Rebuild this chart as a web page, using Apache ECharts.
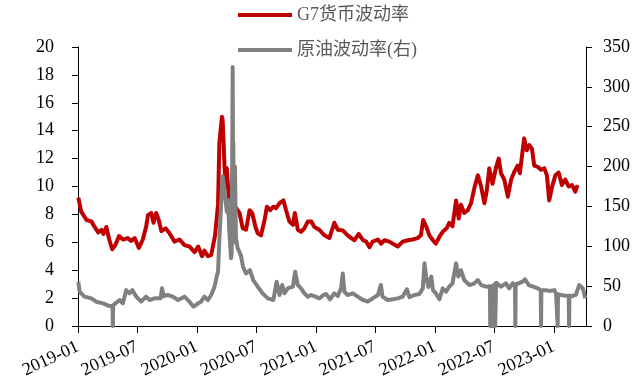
<!DOCTYPE html>
<html>
<head>
<meta charset="utf-8">
<script src="https://cdn.jsdelivr.net/npm/echarts@6/dist/echarts.min.js"></script>
<style>
  html, body { margin: 0; padding: 0; background: #ffffff; }
  #chart { width: 639px; height: 383px; }
</style>
</head>
<body>
<div id="chart"></div>
<script>
// G7 currency implied volatility (left axis)
const fxDates = [
  '2019-01-02','2019-01-11','2019-01-27','2019-02-11','2019-02-21','2019-03-04','2019-03-14','2019-03-20','2019-03-29','2019-04-07',
  '2019-04-16','2019-04-26','2019-05-07','2019-05-19','2019-06-03','2019-06-13','2019-06-24','2019-07-07','2019-07-19','2019-07-29',
  '2019-08-04','2019-08-14','2019-08-21','2019-08-29','2019-09-06','2019-09-14','2019-09-27','2019-10-09','2019-10-24','2019-11-09',
  '2019-11-24','2019-12-09','2019-12-25','2020-01-05','2020-01-17','2020-01-24','2020-02-04','2020-02-14','2020-02-20','2020-02-26',
  '2020-02-28','2020-03-06','2020-03-08','2020-03-10','2020-03-13','2020-03-18','2020-03-20','2020-03-23','2020-03-26','2020-03-30',
  '2020-04-02','2020-04-07','2020-04-10','2020-04-18','2020-05-01','2020-05-11','2020-05-21','2020-05-31','2020-06-11','2020-06-19',
  '2020-06-29','2020-07-06','2020-07-16','2020-07-27','2020-08-03','2020-08-13','2020-08-23','2020-08-31','2020-09-11','2020-09-23',
  '2020-10-01','2020-10-11','2020-10-22','2020-10-28','2020-11-06','2020-11-16','2020-11-26','2020-12-07','2020-12-17','2020-12-27',
  '2021-01-11','2021-01-27','2021-02-11','2021-02-26','2021-03-09','2021-03-24','2021-04-08','2021-04-19','2021-04-29','2021-05-12',
  '2021-05-25','2021-06-04','2021-06-14','2021-06-24','2021-07-10','2021-07-20','2021-07-30','2021-08-14','2021-08-25','2021-09-09',
  '2021-09-24','2021-10-10','2021-10-25','2021-11-09','2021-11-19','2021-11-26','2021-12-05','2021-12-15','2021-12-26','2022-01-04',
  '2022-01-15','2022-01-25','2022-02-06','2022-02-14','2022-02-24','2022-03-07','2022-03-15','2022-03-22','2022-04-01','2022-04-12',
  '2022-04-22','2022-05-02','2022-05-13','2022-05-23','2022-06-02','2022-06-09','2022-06-17','2022-06-27','2022-07-08','2022-07-16',
  '2022-07-23','2022-08-02','2022-08-13','2022-08-23','2022-09-02','2022-09-12','2022-09-19','2022-09-27','2022-10-02','2022-10-10',
  '2022-10-18','2022-10-26','2022-11-02','2022-11-13','2022-11-23','2022-12-03','2022-12-11','2022-12-18','2022-12-27','2023-01-06',
  '2023-01-16','2023-01-26','2023-02-05','2023-02-16','2023-02-26','2023-03-08','2023-03-15'
];
const fxVol = [
  9.2, 8.2, 7.6, 7.5, 7.1, 6.7, 6.9, 6.6, 7.1, 6.2,
  5.5, 5.8, 6.45, 6.2, 6.3, 6.1, 6.3, 5.6, 6.2, 7.1,
  7.95, 8.1, 7.4, 8.1, 7.6, 6.8, 7.0, 6.65, 6.05, 6.2,
  5.8, 5.7, 5.3, 5.7, 5.0, 5.4, 5.0, 5.1, 5.1, 6.5,
  7.0, 8.7, 10.8, 13.1, 13.2, 15.0, 14.8, 13.2, 11.4, 9.9,
  11.3, 9.6, 8.2, 7.6, 8.45, 8.1, 7.0, 6.9, 8.3, 8.1,
  7.1, 6.65, 6.5, 7.6, 8.55, 8.3, 8.55, 8.45, 8.8, 9.0,
  8.3, 7.5, 7.25, 8.1, 6.9, 6.75, 7.0, 7.5, 7.5, 7.1,
  6.9, 6.5, 6.3, 7.4, 6.9, 6.85, 6.5, 6.3, 6.15, 6.6,
  6.15, 6.05, 5.65, 6.05, 6.2, 5.9, 6.15, 6.05, 5.9, 5.7,
  6.05, 6.15, 6.2, 6.3, 6.5, 7.6, 7.15, 6.5, 6.15, 5.9,
  6.4, 6.75, 7.0, 7.4, 7.15, 9.0, 7.7, 8.7, 8.1, 8.3,
  8.8, 9.87, 10.8, 10.0, 8.8, 9.65, 11.3, 10.2, 11.4, 12.0,
  10.95, 10.5, 9.27, 10.5, 11.06, 11.5, 10.95, 12.5, 13.45, 12.6,
  12.97, 12.7, 11.5, 11.4, 11.2, 11.3, 10.8, 9.0, 10.0, 10.8,
  11.0, 10.1, 10.5, 10.0, 10.1, 9.63, 10.1
];

// Crude oil implied volatility (right axis)
const oilDates = [
  '2019-01-02','2019-01-06','2019-01-21','2019-02-11','2019-02-26','2019-03-19','2019-04-08','2019-04-17','2019-04-18','2019-04-19',
  '2019-04-26','2019-05-09','2019-05-19','2019-05-29','2019-06-08','2019-06-17','2019-06-29','2019-07-14','2019-07-29','2019-08-09',
  '2019-08-24','2019-09-12','2019-09-16','2019-09-21','2019-10-04','2019-10-19','2019-11-04','2019-11-24','2019-12-09','2019-12-22',
  '2020-01-05','2020-01-14','2020-01-24','2020-02-04','2020-02-14','2020-02-24','2020-03-02','2020-03-06','2020-03-10','2020-03-13',
  '2020-03-17','2020-03-20','2020-03-26','2020-04-02','2020-04-06','2020-04-09','2020-04-15','2020-04-17','2020-04-20','2020-04-21',
  '2020-04-22','2020-04-24','2020-04-27','2020-04-30','2020-05-05','2020-05-15','2020-05-22','2020-05-31','2020-06-12','2020-06-22',
  '2020-07-06','2020-07-21','2020-08-06','2020-08-23','2020-09-02','2020-09-11','2020-09-19','2020-09-26','2020-10-06','2020-10-22',
  '2020-10-29','2020-11-06','2020-11-16','2020-11-26','2020-12-07','2020-12-17','2020-12-30','2021-01-11','2021-01-24','2021-02-01',
  '2021-02-13','2021-02-26','2021-03-09','2021-03-19','2021-03-24','2021-03-29','2021-04-08','2021-04-24','2021-05-09','2021-05-25',
  '2021-06-09','2021-06-24','2021-07-10','2021-07-19','2021-07-24','2021-08-09','2021-08-25','2021-09-09','2021-09-24','2021-10-07',
  '2021-10-15','2021-10-30','2021-11-14','2021-11-25','2021-11-30','2021-12-05','2021-12-12','2021-12-21','2021-12-26','2022-01-04',
  '2022-01-15','2022-01-25','2022-02-04','2022-02-14','2022-02-24','2022-03-07','2022-03-14','2022-03-22','2022-04-01','2022-04-17',
  '2022-05-02','2022-05-13','2022-05-23','2022-06-07','2022-06-19','2022-06-20','2022-06-22','2022-06-24','2022-06-26','2022-06-28',
  '2022-06-30','2022-07-01','2022-07-03','2022-07-05','2022-07-08','2022-07-23','2022-08-07','2022-08-17','2022-08-28','2022-09-04',
  '2022-09-05','2022-09-06','2022-09-12','2022-09-27','2022-10-05','2022-10-16','2022-10-30','2022-11-13','2022-11-22','2022-11-23',
  '2022-11-24','2022-12-08','2022-12-18','2023-01-03','2023-01-08','2023-01-12','2023-01-13','2023-01-14','2023-01-23','2023-02-07',
  '2023-02-16','2023-02-17','2023-02-18','2023-02-26','2023-03-10','2023-03-20','2023-03-31','2023-04-08'
];
const oilVol = [
  55.6, 43, 36.8, 34.7, 30.5, 28.4, 25, 25, 0, 26,
  28.4, 32.6, 28.4, 45, 41, 45, 36.8, 30.5, 36.8, 32.6,
  34.7, 34.7, 47.3, 37.6, 38.9, 36.8, 32.6, 36.8, 30.5, 24.3,
  28.4, 30.5, 36.8, 32.6, 38.9, 49, 62, 68, 108, 131,
  165, 188, 170, 143, 158, 123, 85, 92, 325, 200,
  230, 105, 200, 110, 98, 89, 74, 66, 70, 57.7,
  49.3, 41, 34.7, 32.6, 55.6, 38.9, 51.4, 41, 47.3, 49.3,
  68, 51.4, 47.3, 41, 36.8, 38.9, 36.8, 34.7, 38.9, 40,
  33.5, 41, 37.6, 47.3, 66, 43, 38.9, 41, 36.8, 32.6,
  30.5, 34.7, 38.9, 51.4, 36.8, 32.6, 33.5, 34.7, 36.8, 46,
  36, 38.9, 40, 47.3, 78.6, 62, 49, 62, 45, 41,
  33.5, 47.3, 43, 49.3, 53.5, 78.6, 62, 70, 57.7, 51.4,
  53.5, 57.7, 51.4, 49.3, 50, 0, 50, 0, 50, 0,
  51, 0, 52, 0, 54.4, 49.3, 53.5, 47.3, 53.5, 52,
  0, 52, 53.5, 55.6, 58.6, 51.4, 49.3, 47.3, 45, 0,
  45, 45, 44, 45, 41, 40, 0, 40, 39, 38,
  38, 0, 38, 37.6, 39, 51.4, 47.3, 34.7
];

// Half-yearly date ticks
const xTickLabels = ['2019-01','2019-07','2020-01','2020-07','2021-01','2021-07','2022-01','2022-07','2023-01'];
const xStart = '2019-01-01';
const xEnd = '2023-04-10';

const toTime = s => echarts.number.parseDate(s).getTime();
const pair = (dates, vals) => dates.map((d, i) => [toTime(d), vals[i]]);
const pad2 = n => (n < 10 ? '0' : '') + n;
const tickTimes = xTickLabels.map(l => toTime(l + '-01'));

const labelFont = { fontFamily: '"Liberation Serif", "Times New Roman", serif', fontSize: 18, color: '#000000' };
const axisLineStyle = { show: true, lineStyle: { color: '#000000', width: 1 } };

const chart = echarts.init(document.getElementById('chart'), null, { renderer: 'canvas' });
chart.setOption({
  animation: false,
  backgroundColor: '#ffffff',
  grid: { left: 78, right: 53, top: 47, bottom: 57, containLabel: false, outerBoundsMode: 'none' },
  legend: {
    orient: 'vertical',
    left: 238,
    top: 6,
    padding: 0,
    itemWidth: 54,
    itemHeight: 4,
    itemGap: 17,
    icon: 'rect',
    textStyle: {
      fontFamily: '"Liberation Serif", "Noto Sans CJK SC", serif',
      fontSize: 18,
      lineHeight: 18,
      color: '#595959'
    },
    data: ['G7货币波动率', '原油波动率(右)']
  },
  xAxis: {
    type: 'value',
    min: toTime(xStart),
    max: toTime(xEnd),
    scale: true,
    axisLine: axisLineStyle,
    axisTick: {
      show: true, inside: false, length: 7,
      lineStyle: { color: '#000000', width: 1 },
      customValues: tickTimes
    },
    axisLabel: Object.assign({
      rotate: 25,
      margin: 20,
      customValues: tickTimes,
      formatter: v => { const d = echarts.number.parseDate(v); return d.getFullYear() + '-' + pad2(d.getMonth() + 1); }
    }, labelFont),
    splitLine: { show: false },
    minorTick: { show: false }
  },
  yAxis: [
    {
      type: 'value', min: 0, max: 20, interval: 2, position: 'left',
      axisLine: axisLineStyle,
      axisTick: { show: true, inside: false, length: 6, lineStyle: { color: '#000000' } },
      axisLabel: Object.assign({ margin: 24 }, labelFont),
      splitLine: { show: false }
    },
    {
      type: 'value', min: 0, max: 350, interval: 50, position: 'right',
      axisLine: axisLineStyle,
      axisTick: { show: true, inside: false, length: 6, lineStyle: { color: '#000000' } },
      axisLabel: Object.assign({ margin: 17 }, labelFont),
      splitLine: { show: false }
    }
  ],
  series: [
    {
      name: 'G7货币波动率',
      type: 'line',
      yAxisIndex: 0,
      data: pair(fxDates, fxVol),
      showSymbol: false,
      symbol: 'none',
      color: '#C00000',
      lineStyle: { color: '#C00000', width: 4, join: 'round' }
    },
    {
      name: '原油波动率(右)',
      type: 'line',
      yAxisIndex: 1,
      data: pair(oilDates, oilVol),
      showSymbol: false,
      symbol: 'none',
      color: '#808080',
      lineStyle: { color: '#808080', width: 4, join: 'round' }
    }
  ]
});
</script>
</body>
</html>
